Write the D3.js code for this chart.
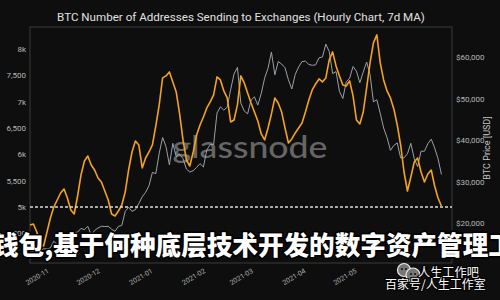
<!DOCTYPE html>
<html><head><meta charset="utf-8">
<script src="https://cdn.jsdelivr.net/npm/d3@7"></script>
<style>html,body{margin:0;padding:0;background:#0e0e0e;} svg{display:block}</style>
</head><body>
<svg id="c" width="500" height="300"></svg>
<script>
// ---- data ----
const startDate = "2020-10-22";
const stepDays = 2;
const addresses = [
4658,4677,4525,4297,4259,4525,4791,5000,5133,5266,
5342,5171,4943,4867,5209,5608,5874,5969,5798,5703,
5551,5475,5304,5133,4867,4829,4924,5038,5285,5703,
6045,6254,6178,5741,5931,6045,6178,6539,6938,7451,
7489,7565,7375,7185,6767,6273,5893,5779,6045,6368,
6558,6710,6881,6995,7128,7470,7413,7204,7071,6615,
6653,6938,7489,7356,7166,6976,6805,6634,6387,6273,
6501,6767,7071,6976,6805,6501,6216,6292,6406,6501,
6596,6805,7033,7223,7337,7432,7375,7451,7793,7945,
7679,7489,7318,7299,7394,7109,6653,6577,6805,7261,
7736,8116,8268,7736,7413,7204,7071,6862,6558,6178,
5665,5304,5570,5855,5931,5665,5475,5627,5703,5399,
5171,5019];
const btcPrice = [
12990,13100,13050,13270,13800,
13740,14000,15600,14800,15300,15700,16300,15950,17700,17800,18700,18400,19200,17100,18200,
18800,19200,19150,19200,18500,18000,19200,19400,22800,23800,22800,23200,24700,26300,27400,29000,
32200,31900,36800,40600,38400,34000,39200,36000,36600,35500,33000,32300,32600,33400,34300,
33500,37600,38900,38900,46500,48000,47200,47900,52100,55900,57500,48900,47000,46300,
49600,50400,48400,51200,54900,57300,61200,55700,58900,58300,57400,54500,52300,55800,57600,58900,
59000,58200,58000,58100,59800,60000,63100,61300,56000,56500,51700,50000,54000,54900,57700,
56600,53800,56400,58800,55800,49200,49700,46400,42900,40600,37500,38700,39300,35700,35700,
36700,39200,35500,33600,37300,37300,39100,40200,38100,35500,31700];
const leftTicks = [4500,5000,5500,6000,6500,7000,7500,8000];
const leftTickLabels = ["4,500","5k","5,500","6k","6,500","7k","7,500","8k"];
const rightTicks = [20000,30000,40000,50000,60000];
const rightTickLabels = ["$20,000","$30,000","$40,000","$50,000","$60,000"];
const monthTicks = ["2020-11-01","2020-12-01","2021-01-01","2021-02-01","2021-03-01","2021-04-01","2021-05-01"];
const monthLabels = ["2020-11","2020-12","2021-01","2021-02","2021-03","2021-04","2021-05"];
const threshold = 5000;
const titleText = "BTC Number of Addresses Sending to Exchanges (Hourly Chart, 7d MA)";
const overlayText = "钱包,基于何种底层技术开发的数字资产管理工具";

// ---- layout ----
const L = 30, R = 452, T = 27, B = 263;
const svg = d3.select("#c");
svg.append("rect").attr("width",500).attr("height",300).attr("fill","#0e0e0e");

const dates = addresses.map((_, i) => d3.utcDay.offset(new Date(startDate + "T00:00:00Z"), i * stepDays));
const x = d3.scaleUtc().domain([new Date(Date.UTC(2020,9,22)), new Date(Date.UTC(2021,5,27,5))]).range([L, R]);
const yL = d3.scaleLinear().domain([3937, 8418]).range([B, T]);
const yR = d3.scaleLinear().domain([10361, 67229]).range([B, T]);

// title
svg.append("text").attr("x",241).attr("y",21).attr("text-anchor","middle")
  .attr("font-family","Roboto, 'Open Sans', sans-serif").attr("font-size",11.6)
  .attr("fill","#e0e0e0").text(titleText);

// frame
svg.append("rect").attr("x",L).attr("y",T).attr("width",R-L).attr("height",B-T)
  .attr("fill","none").attr("stroke","#3a3a3a").attr("stroke-width",1);

// left axis
const gl = svg.append("g").attr("transform",`translate(${L},0)`)
  .call(d3.axisLeft(yL).tickValues(leftTicks).tickFormat((d,i)=>leftTickLabels[i]).tickSize(0).tickPadding(4));
gl.select(".domain").remove();
gl.selectAll("text").attr("fill","#b8b8b8").attr("font-size",8).attr("font-family","Roboto, sans-serif");

// right axis
const gr = svg.append("g").attr("transform",`translate(${R},0)`)
  .call(d3.axisRight(yR).tickValues(rightTicks).tickFormat((d,i)=>rightTickLabels[i]).tickSize(0).tickPadding(4));
gr.select(".domain").remove();
gr.selectAll("text").attr("fill","#b8b8b8").attr("font-size",8).attr("font-family","Roboto, sans-serif");

svg.append("text").attr("transform","translate(490,148) rotate(-90)").attr("text-anchor","middle")
  .attr("font-family","Roboto, sans-serif").attr("font-size",9).attr("fill","#c8c8c8").text("BTC Price [USD]");

// x axis labels
const gx = svg.append("g");
monthTicks.forEach((m, i) => {
  const px = x(new Date(m + "T00:00:00Z"));
  gx.append("text").attr("transform",`translate(${px},268) rotate(-30)`)
    .attr("text-anchor","end").attr("dy","0.72em")
    .attr("font-family","Roboto, sans-serif").attr("font-size",7).attr("fill","#b0b0b0")
    .text(monthLabels[i]);
});

// watermark glassnode
svg.append("text").attr("x",250).attr("y",158).attr("text-anchor","middle")
  .attr("font-family","Lato, Inter, sans-serif").attr("font-size",31).attr("font-weight",500)
  .attr("fill","#666").attr("textLength",155).attr("lengthAdjust","spacingAndGlyphs").text("glassnode");

// price line
svg.append("path").datum(btcPrice)
  .attr("fill","none").attr("stroke","#9aa0aa").attr("stroke-width",1)
  .attr("d", d3.line().x((d,i)=>x(dates[i])).y(d=>yR(d)));

// addresses line
svg.append("path").datum(addresses)
  .attr("fill","none").attr("stroke","#f5a31c").attr("stroke-width",1.6).attr("stroke-linejoin","round")
  .attr("d", d3.line().x((d,i)=>x(dates[i])).y(d=>yL(d)));

// threshold dashed line
svg.append("line").attr("x1",L).attr("x2",R).attr("y1",yL(threshold)).attr("y2",yL(threshold))
  .attr("stroke","#dcdcdc").attr("stroke-width",1.5).attr("stroke-dasharray","3,2");

// overlay chinese caption
svg.append("text").attr("x",-7).attr("y",255)
  .attr("font-family","'Noto Sans CJK SC', sans-serif").attr("font-size",25.6).attr("font-weight",900)
  .attr("fill","#ffffff").attr("stroke","#000").attr("stroke-width",3).attr("paint-order","stroke")
  .text(overlayText);

// bottom-right watermark
const wm = svg.append("g");
[[404,270,6.5],[413,275,7]].forEach(c=>{
  wm.append("circle").attr("cx",c[0]).attr("cy",c[1]).attr("r",c[2]).attr("fill","#777").attr("stroke","#eee").attr("stroke-width",1.2);
  wm.append("circle").attr("cx",c[0]-2).attr("cy",c[1]-1).attr("r",1).attr("fill","#111");
  wm.append("circle").attr("cx",c[0]+2).attr("cy",c[1]-1).attr("r",1).attr("fill","#111");
});
wm.append("text").attr("x",418).attr("y",277).attr("font-family","'Noto Sans CJK SC', sans-serif")
  .attr("font-size",12.2).attr("fill","#fff").attr("stroke","#000").attr("stroke-width",2).attr("paint-order","stroke")
  .text("人生工作吧");
wm.append("text").attr("x",385).attr("y",289).attr("font-family","'Noto Sans CJK SC', sans-serif")
  .attr("font-size",12).attr("fill","#fff").attr("stroke","#000").attr("stroke-width",2).attr("paint-order","stroke")
  .text("百家号/人生工作室");
</script>
</body></html>
